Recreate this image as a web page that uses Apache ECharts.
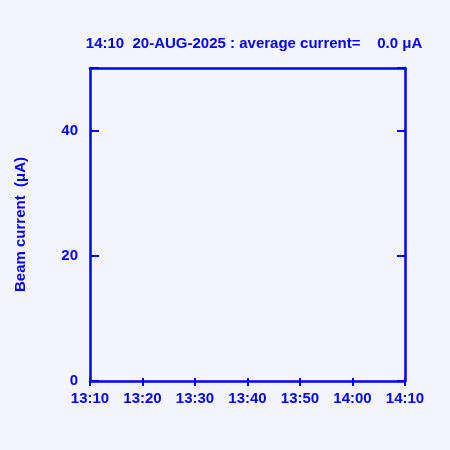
<!DOCTYPE html>
<html><head><meta charset="utf-8">
<script src="https://cdn.jsdelivr.net/npm/echarts@6/dist/echarts.min.js"></script>
<style>html,body{margin:0;padding:0;background:#f4f4ff;}#c{width:450px;height:450px;}</style>
</head><body><div id="c"></div>
<script>
// Data
const titleText = "14:10  20-AUG-2025 : average current=    0.0 \u03bcA";
const xTickLabels = ["13:10","13:20","13:30","13:40","13:50","14:00","14:10"];
const xMinMinutes = 790;   // 13:10 in minutes since midnight
const xMaxMinutes = 850;   // 14:10
const xInterval = 10;
const yTickValues = [0, 20, 40];
const yMin = 0, yMax = 50, yInterval = 20;
const beamTimes = [];      // no beam data in this period
const beamCurrent = [];

const blue = '#0000ff';
const font = 'Liberation Sans';
const chart = echarts.init(document.getElementById('c'), null, {renderer:'canvas'});
const seriesData = beamTimes.map((t,i)=>[t, beamCurrent[i]]);
const xFmt = v => { const i = Math.round((v - xMinMinutes)/xInterval); return xTickLabels[i] ?? ''; };
chart.setOption({
  backgroundColor: '#f4f4ff',
  animation: false,
  title: {
    text: titleText, left: 249, top: 31, textAlign: 'center',
    textStyle: {color: blue, fontFamily: font, fontSize: 15, fontWeight: 'bold'}
  },
  grid: {left: 90, right: 45, top: 68, bottom: 69, show: false},
  xAxis: [{
    type: 'value', min: xMinMinutes, max: xMaxMinutes, interval: xInterval, position: 'bottom',
    axisLine: {show: true, lineStyle: {color: blue, width: 2.5}},
    axisTick: {show: true, inside: false, length: 5, lineStyle: {color: blue, width: 2}},
    axisLabel: {color: blue, fontFamily: font, fontSize: 15, fontWeight: 'bold', margin: 10, formatter: xFmt},
    splitLine: {show: false}
  },{
    type: 'value', min: xMinMinutes, max: xMaxMinutes, interval: xInterval, position: 'bottom',
    axisLine: {show: false},
    axisTick: {show: true, inside: true, length: 3, lineStyle: {color: blue, width: 2}},
    axisLabel: {show: false}, splitLine: {show: false}
  },{
    type: 'value', min: xMinMinutes, max: xMaxMinutes, interval: xInterval, position: 'top',
    axisLine: {show: true, lineStyle: {color: blue, width: 2.5}},
    axisTick: {show: false}, axisLabel: {show: false}, splitLine: {show: false}
  }],
  yAxis: [{
    type: 'value', min: yMin, max: yMax, interval: yInterval, position: 'left',
    name: 'Beam current  (\u03bcA)', nameLocation: 'middle', nameGap: 62, nameRotate: 90,
    nameTextStyle: {color: blue, fontFamily: font, fontSize: 15, fontWeight: 'bold'},
    axisLine: {show: true, lineStyle: {color: blue, width: 2.5}},
    axisTick: {show: true, inside: true, length: 9, lineStyle: {color: blue, width: 2}},
    axisLabel: {color: blue, fontFamily: font, fontSize: 15, fontWeight: 'bold', margin: 12,
      formatter: v => yTickValues.includes(v) ? String(v) : ''},
    splitLine: {show: false}
  },{
    type: 'value', min: yMin, max: yMax, interval: yInterval, position: 'right',
    axisLine: {show: true, lineStyle: {color: blue, width: 2.5}},
    axisTick: {show: true, inside: true, length: 8, lineStyle: {color: blue, width: 2}},
    axisLabel: {show: false}, splitLine: {show: false}
  }],
  series: [{
    type: 'line', xAxisIndex: 0, yAxisIndex: 0, data: seriesData,
    showSymbol: false, lineStyle: {color: blue, width: 2}
  }]
});
</script></body></html>
